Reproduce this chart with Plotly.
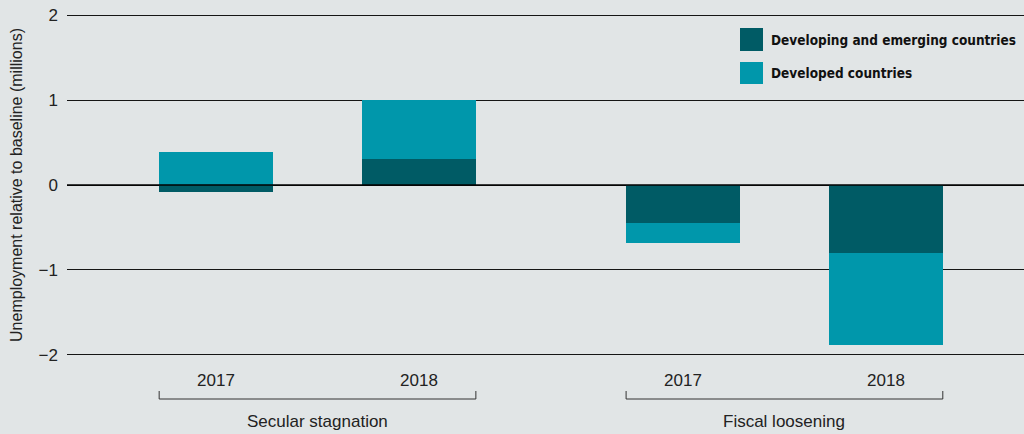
import plotly.graph_objects as go

# ---- data ----
scenarios = ["Secular stagnation", "Fiscal loosening"]
years = ["2017", "2018"]
series_names = ["Developing and emerging countries", "Developed countries"]
developing = [-0.08, 0.31, -0.45, -0.80]
developed = [0.39, 0.69, -0.23, -1.09]
y_ticks = [-2, -1, 0, 1, 2]
y_title = "Unemployment relative to baseline (millions)"

# ---- style ----
BG = "#e1e5e6"
DARK = "#005b65"
CYAN = "#0097ab"
colors = [DARK, CYAN]
GROUP_STEP = 2.3
BAR_W = 0.56
FONT = "Liberation Sans, Arial, sans-serif"

x_pos, x_lab = [], []
for gi, _ in enumerate(scenarios):
    for yi, yr in enumerate(years):
        x_pos.append(gi * GROUP_STEP + yi)
        x_lab.append(yr)

fig = go.Figure()
for name, vals, col in zip(series_names, [developing, developed], colors):
    fig.add_trace(go.Bar(x=x_pos, y=vals, name=name, marker_color=col,
                         marker_line_width=0, width=BAR_W, showlegend=False))

L, R, T, B = 67, 0, 12, 76
W, H = 1024, 434
plot_w = W - L - R
plot_h = H - T - B

def px_x(px):
    return (px - L) / plot_w

def px_y(py):
    return (H - B - py) / plot_h

shapes = []
annotations = []

# zero line above bars
shapes.append(dict(type="line", xref="paper", yref="y", x0=0, x1=1, y0=0, y1=0,
                   line=dict(color="#000000", width=1.5), layer="above"))

# group brackets
n_years = len(years)
for gi, sc in enumerate(scenarios):
    xs = x_pos[gi * n_years:(gi + 1) * n_years]
    x0 = xs[0] - BAR_W / 2
    x1 = xs[-1] + BAR_W / 2
    yt, yb = px_y(391), px_y(399)
    shapes.append(dict(type="path", xref="x", yref="paper",
                       path=f"M {x0},{yt} L {x0},{yb} L {x1},{yb} L {x1},{yt}",
                       line=dict(color="#333333", width=1)))
    annotations.append(dict(x=(x0 + x1) / 2, y=px_y(421), xref="x", yref="paper",
                            text=sc, showarrow=False, xanchor="center", yanchor="middle",
                            font=dict(family=FONT, size=17, color="#222222")))

# custom legend
leg_rows = [(28, 51), (62, 84)]
for (t, b), name, col in zip(leg_rows, series_names, colors):
    shapes.append(dict(type="rect", xref="paper", yref="paper",
                       x0=px_x(740), x1=px_x(763), y0=px_y(b), y1=px_y(t),
                       fillcolor=col, line=dict(width=0)))
    annotations.append(dict(x=px_x(769), y=px_y((t + b) / 2), xref="paper", yref="paper",
                            text=f"<b>{name}</b>", showarrow=False, xanchor="left",
                            yanchor="middle",
                            font=dict(family="DejaVu Sans Condensed, Liberation Sans Narrow, sans-serif",
                                      size=13.5, color="#111111")))

fig.update_layout(
    width=W, height=H,
    margin=dict(l=L, r=R, t=T, b=B),
    paper_bgcolor=BG, plot_bgcolor=BG,
    barmode="relative",
    bargap=0,
    shapes=shapes,
    annotations=annotations,
    font=dict(family=FONT, color="#222222"),
)
fig.update_xaxes(range=[-0.734, 3.98], tickvals=x_pos, ticktext=x_lab,
                 showgrid=False, zeroline=False, showline=False, ticks="",
                 ticklabelstandoff=10, tickfont=dict(size=17, color="#222222"))
fig.update_yaxes(range=[-2.04, 2.04], tickvals=y_ticks,
                 ticktext=[("\u2212" + str(abs(v))) if v < 0 else str(v) for v in y_ticks],
                 showgrid=True, gridcolor="#151515", gridwidth=1.2,
                 zeroline=False, showline=False, ticks="",
                 ticklabelstandoff=8, tickfont=dict(size=17, color="#222222"),
                 title=dict(text=y_title, font=dict(size=16, color="#222222"), standoff=12))

fig.write_html("out.html")
